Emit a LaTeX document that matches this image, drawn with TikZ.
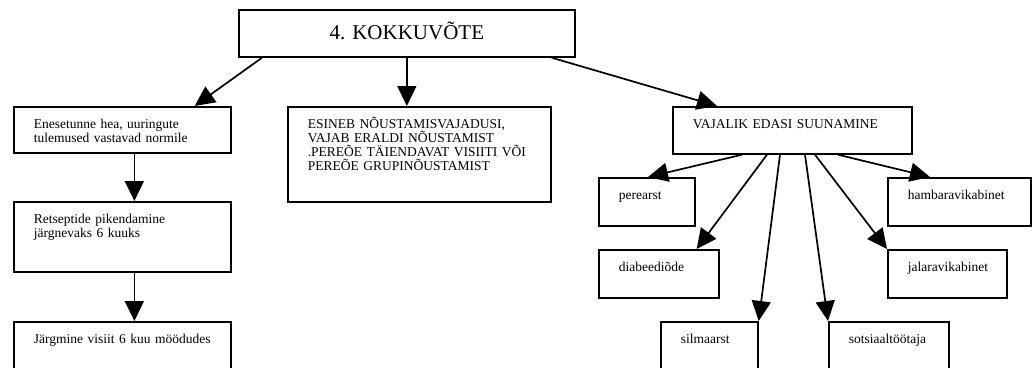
\documentclass[tikz,border=0pt]{standalone}
\usepackage{fontspec}
\setmainfont{Liberation Serif}
\usetikzlibrary{arrows.meta, calc, positioning}
\hyphenpenalty=10000
\exhyphenpenalty=10000

\begin{document}
\begin{tikzpicture}[x=1pt, y=-1pt,
  bx/.style={rectangle, draw, line width=1.7pt, anchor=north west,
    align=left, inner xsep=20pt, inner ysep=0pt, text height=22pt,
    font=\fontsize{13.5}{14}\selectfont},
  hd/.style={rectangle, draw, line width=1.7pt, anchor=north west,
    inner sep=0pt, font=\fontsize{21}{24}\selectfont},
  farr/.style={-{Triangle[length=20pt,width=19pt]}, line width=1.7pt},
]
\clip (0,0) rectangle (1034,367);
%% Title
\node[hd, minimum width=336pt, text height=30pt, text depth=17pt]
  (top) at (238,9) {4. KOKKUVÕTE};
%% Left column
\node[bx, text width=177pt, text depth=24pt]
  (E1) at (13,106) {Enesetunne hea, uuringute\\tulemused vastavad normile};
\node[bx, text width=177pt, text depth=48pt]
  (E2) at (13,201) {Retseptide pikendamine\\järgnevaks 6 kuuks};
\node[bx, text width=177pt, text depth=60pt]
  (E3) at (13,321) {Järgmine visiit 6 kuu möödudes};
%% Counselling
\node[bx, text width=223pt, text depth=73pt]
  (NC) at (287,106) {ESINEB NÕUSTAMISVAJADUSI,\\VAJAB ERALDI NÕUSTAMIST\\
    .PEREÕE TÄIENDAVAT VISIITI VÕI\\PEREÕE GRUPINÕUSTAMIST};
%% Referral
\node[bx, text width=199pt, text depth=25pt]
  (VJ) at (672,106) {VAJALIK EDASI SUUNAMINE};
\node[bx, text width=56pt, text depth=26pt]
  (GP) at (598,177) {perearst};
\node[bx, text width=103pt, text depth=26pt]
  (DT) at (887,177) {hambaravikabinet};
\node[bx, text width=80pt, text depth=26pt]
  (NU) at (598,249) {diabeediõde};
\node[bx, text width=79pt, text depth=26pt]
  (FT) at (887,249) {jalaravikabinet};
\node[bx, text width=57pt, text depth=60pt]
  (EY) at (660,321) {silmaarst};
\node[bx, text width=80pt, text depth=60pt]
  (SO) at (828,321) {sotsiaaltöötaja};
%% Arrows from title
\draw[farr] ($(top.south west)+(24,0)$) -- ($(E1.north east)+(-37,0)$);
\draw[farr] (top.south) -- (top.south |- NC.north);
\draw[farr] ($(top.south east)+(-24,0)$) -- ($(VJ.north west)+(45,0)$);
%% Left column arrows
\draw[farr] ($(E1.south)+(12,0)$) -- ($(E2.north)+(12,0)$);
\draw[farr] ($(E2.south)+(12,0)$) -- ($(E3.north)+(12,0)$);
%% Referral fan
\draw[farr] ($(VJ.south west)+(70,0)$)  -- ($(GP.north west)+(50,0)$);
\draw[farr] ($(VJ.south west)+(95,0)$)  -- ($(NU.north east)+(-23,0)$);
\draw[farr] ($(VJ.south west)+(108,0)$) -- (EY.north east);
\draw[farr] ($(VJ.south west)+(133,0)$) -- (SO.north west);
\draw[farr] ($(VJ.south west)+(143,0)$) -- (FT.north west);
\draw[farr] ($(VJ.south west)+(166,0)$) -- ($(DT.north west)+(43,0)$);
\end{tikzpicture}
\end{document}
